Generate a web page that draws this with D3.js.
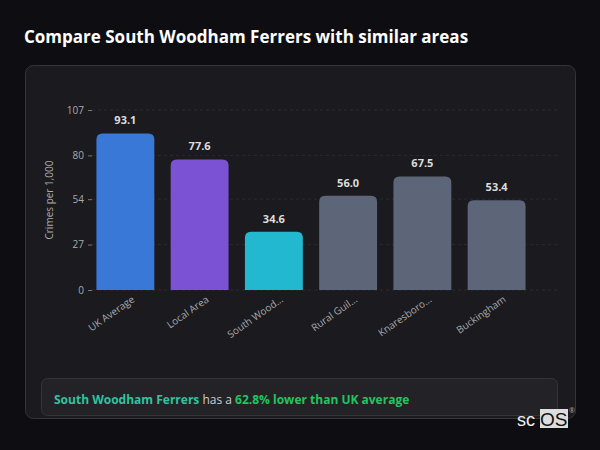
<!DOCTYPE html><html><head><meta charset="utf-8"><script src="https://cdn.jsdelivr.net/npm/d3@7"></script>
<style>body{margin:0;background:#0e0e12;font-family:"Open Sans",sans-serif}</style></head><body><svg id="c" width="600" height="450"></svg>
<script>
const categories=["UK Average","Local Area","South Wood...","Rural Guil...","Knaresboro...","Buckingham"];
const values=[93.1,77.6,34.6,56.0,67.5,53.4];
const colors=["#3a78d8","#7b52d4","#22b8d0","#5c6678","#5c6678","#5c6678"];
const ticks=[0,27,54,80,107];
const svg=d3.select("#c");
svg.append("rect").attr("width",600).attr("height",450).attr("fill","#0e0e12");
svg.append("text").attr("x",24).attr("y",43).attr("fill","#fff").attr("font-size",17).attr("font-weight",700).text("Compare South Woodham Ferrers with similar areas");
svg.append("rect").attr("x",25.5).attr("y",65.5).attr("width",550).attr("height",353).attr("rx",8).attr("fill","#1a1a1f").attr("stroke","#34343a");
const x=d3.scaleBand().domain(categories).range([89,533]).paddingInner(0.22).paddingOuter(0.1);
const y=d3.scaleLinear().domain([0,107]).range([290,110]);
const g=svg.append("g");
ticks.forEach(t=>g.append("line").attr("x1",92).attr("x2",560).attr("y1",y(t)).attr("y2",y(t)).attr("stroke","#2a2a30").attr("stroke-dasharray","3,3"));
const ax=svg.append("g").attr("transform","translate(92,0)").call(d3.axisLeft(y).tickValues(ticks).tickSize(4).tickPadding(4));
ax.select(".domain").remove();
ax.selectAll("line").attr("stroke","#777");
ax.selectAll("text").attr("fill","#aaa").attr("font-size",10).attr("font-family","Open Sans");
svg.append("text").attr("transform","translate(53,200) rotate(-90)").attr("text-anchor","middle").attr("fill","#aaa").attr("font-size",10).text("Crimes per 1,000");
categories.forEach((c,i)=>{
  const bx=x(c),bw=x.bandwidth(),top=y(values[i]);
  svg.append("path").attr("d",`M${bx},290V${top+6}Q${bx},${top} ${bx+6},${top}H${bx+bw-6}Q${bx+bw},${top} ${bx+bw},${top+6}V290Z`).attr("fill",colors[i]);
  svg.append("text").attr("x",bx+bw/2).attr("y",top-9).attr("text-anchor","middle").attr("fill","#ddd").attr("font-size",11).attr("font-weight",700).text(values[i].toFixed(1));
  svg.append("text").attr("transform",`translate(${bx+bw/2+10},301) rotate(-35)`).attr("text-anchor","end").attr("fill","#aaa").attr("font-size",10).text(c);
});
svg.append("rect").attr("x",41.5).attr("y",378.5).attr("width",516).attr("height",37).attr("rx",6).attr("fill","#222227").attr("stroke","#34343a");
const t=svg.append("text").attr("x",54).attr("y",404).attr("font-size",12).attr("font-weight",700);
t.append("tspan").attr("fill","#2ec4a0").text("South Woodham Ferrers");
t.append("tspan").attr("fill","#ccc").attr("font-weight",400).text(" has a ");
t.append("tspan").attr("fill","#22c55e").text("62.8% lower than UK average");
svg.append("rect").attr("x",540).attr("y",409).attr("width",28).attr("height",19).attr("fill","#ddd");
svg.append("text").attr("x",517).attr("y",426).attr("font-size",18).attr("font-family","Liberation Sans").attr("fill","#eee").text("sc");
svg.append("text").attr("x",540).attr("y",426).attr("font-size",19).attr("font-family","Liberation Sans").attr("fill","#111").text("OS");
svg.append("text").attr("x",569).attr("y",413).attr("font-size",7).attr("fill","#aaa").text("®");
</script></body></html>
